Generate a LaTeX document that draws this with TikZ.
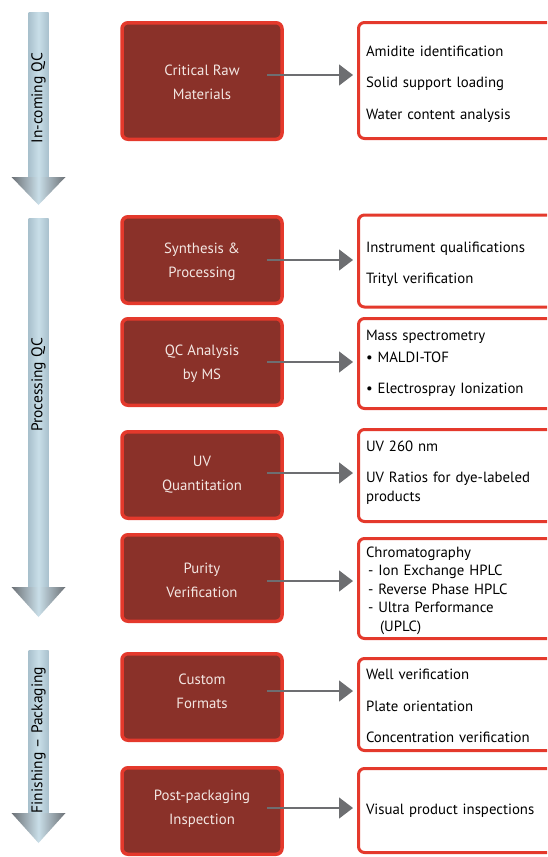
\documentclass[tikz,border=0pt]{standalone}
\usepackage{fontspec}
\setmainfont{PT Sans}
\usepackage{xcolor}
\usepackage{tikz}
\usetikzlibrary{arrows.meta}

\definecolor{boxfill}{HTML}{8A3129}
\definecolor{boxline}{HTML}{E4392C}
\definecolor{boxtext}{HTML}{F3E6E2}
\definecolor{linkgray}{HTML}{6D6E71}
\definecolor{shaftedge}{HTML}{A9C1CD}
\definecolor{shaftmid}{HTML}{C9DEE8}
\definecolor{headedge}{HTML}{6B7075}

\newcommand{\headroom}[1]{\rule{0pt}{#1}}
\newcommand{\footroom}[1]{\rule[-#1]{0pt}{#1}}

\begin{document}
\begin{tikzpicture}[x=1pt,y=-1pt,
    stepbox/.style={draw=boxline, fill=boxfill, line width=3.5pt, rounded corners=6pt,
        minimum width=160pt, minimum height=86.5pt, text=boxtext, align=center,
        font=\fontsize{14.8}{24}\selectfont},
    listbox/.style={draw=boxline, fill=white, line width=3pt, rounded corners=6pt,
        anchor=west, inner xsep=7.5pt, text width=235pt, align=left,
        font=\fontsize{14.8}{18.5}\selectfont},
    link/.style={draw=linkgray, line width=1.4pt, -{Triangle[length=14pt,width=21pt]}, shorten >=4pt},
    phase/.style={rotate=90, font=\fontsize{15.5}{17}\selectfont}]
    \useasboundingbox (0,0) rectangle (547,857);
    \clip (0,0) rectangle (547,857);

    \shade[left color=shaftedge, right color=shaftedge, middle color=shaftmid] (28.5,12) rectangle (48.5,177);
    \shade[left color=headedge, right color=headedge, middle color=shaftmid] (11.5,177) -- (65.5,177) -- (38.5,205) -- cycle;
    \shade[left color=shaftedge, right color=shaftedge, middle color=shaftmid] (28.5,218) rectangle (48.5,587);
    \shade[left color=headedge, right color=headedge, middle color=shaftmid] (11.5,587) -- (65.5,587) -- (38.5,617) -- cycle;
    \shade[left color=shaftedge, right color=shaftedge, middle color=shaftmid] (28.5,650) rectangle (48.5,813);
    \shade[left color=headedge, right color=headedge, middle color=shaftmid] (11.5,813) -- (65.5,813) -- (38.5,843) -- cycle;

    \node[phase] (incoming) at (38.5,98) {In-coming QC};
    \node[phase] (processing) at (38.5,385) {Processing QC};
    \node[phase] (finishing) at (38.5,740) {Finishing – Packaging};

    \node[stepbox, minimum height=116.5pt] (raw) at (202,81) {\headroom{14pt}Critical Raw\\Materials};
    \node[stepbox] (synth) at (202,260) {\headroom{15pt}Synthesis \&\\Processing};
    \node[stepbox] (qcms) at (202,362) {\headroom{15pt}QC Analysis\\by MS};
    \node[stepbox] (uvq) at (202,475) {UV\\Quantitation};
    \node[stepbox] (purity) at (202,578) {\headroom{15pt}Purity\\Verification};
    \node[stepbox] (custom) at (202,697) {Custom\\Formats\footroom{12pt}};
    \node[stepbox] (postpack) at (202,811) {Post-packaging\\Inspection\footroom{7pt}};

    \node[listbox, minimum height=116pt] (rawlist) at (357,80.5) {\headroom{17.5pt}Amidite identification\\[13pt]Solid support loading\\[13pt]Water content analysis};
    \node[listbox, minimum height=92pt] (synthlist) at (357,261) {\headroom{17.5pt}Instrument qualifications\\[13pt]Trityl verification};
    \node[listbox, minimum height=90pt] (qcmslist) at (357,363.5) {Mass spectrometry\\[3.5pt]• MALDI-TOF\\[13pt]• Electrospray Ionization};
    \node[listbox, minimum height=92pt] (uvqlist) at (357,475.5) {UV 260 nm\\[13pt]UV Ratios for dye-labeled\\products\footroom{9pt}};
    \node[listbox, minimum height=100pt] (puritylist) at (357,588.5) {\headroom{15pt}Chromatography\\\hspace{2pt}- Ion Exchange HPLC\\\hspace{2pt}- Reverse Phase HPLC\\\hspace{2pt}- Ultra Performance\\\hspace{14pt}(UPLC)};
    \node[listbox, minimum height=92pt] (customlist) at (357,704.5) {\headroom{13.5pt}Well verification\\[13pt]Plate orientation\\[13pt]Concentration verification};
    \node[listbox, minimum height=84pt] (postpacklist) at (357,810.5) {\headroom{11.5pt}Visual product inspections};

    \draw[link] ([xshift=65pt,yshift=6pt]raw.center) -- ([yshift=6pt]raw.center -| rawlist.west);
    \draw[link] ([xshift=65pt]synth.center) -- (synth.center -| synthlist.west);
    \draw[link] ([xshift=65pt]qcms.center) -- (qcms.center -| qcmslist.west);
    \draw[link] ([xshift=65pt,yshift=2pt]uvq.center) -- ([yshift=2pt]uvq.center -| uvqlist.west);
    \draw[link] ([xshift=65pt,yshift=-3pt]purity.center) -- ([yshift=-3pt]purity.center -| puritylist.west);
    \draw[link] ([xshift=65pt,yshift=6pt]custom.center) -- ([yshift=6pt]custom.center -| customlist.west);
    \draw[link] ([xshift=65pt,yshift=3pt]postpack.center) -- ([yshift=3pt]postpack.center -| postpacklist.west);
\end{tikzpicture}
\end{document}
